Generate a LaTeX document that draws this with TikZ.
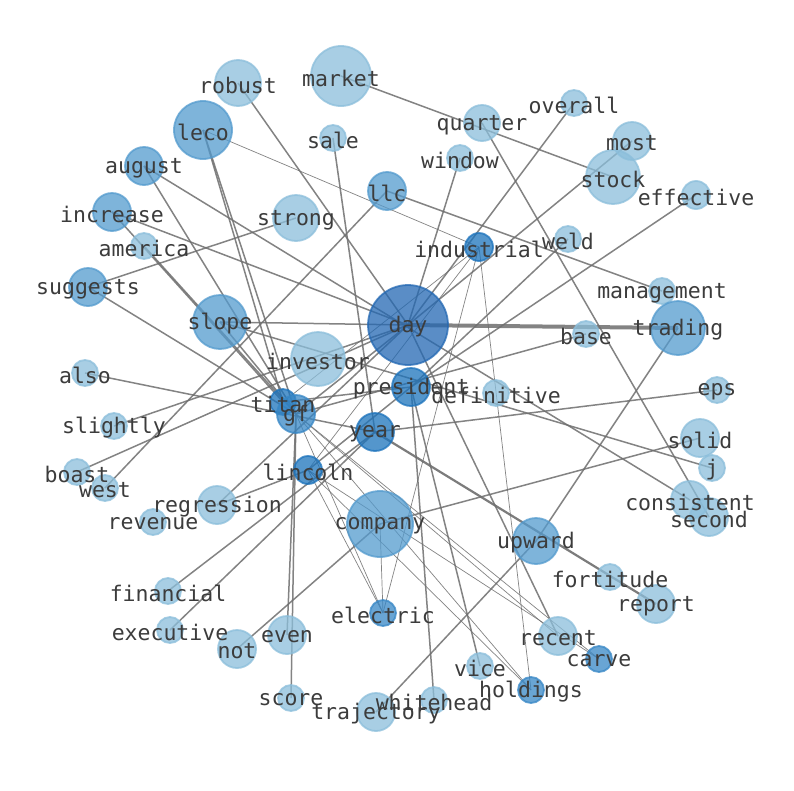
\documentclass[tikz,border=0pt]{standalone}
\usepackage{fontspec}
\newfontfamily\lblfont{DejaVu Sans Mono}
\pgfdeclarelayer{bg}\pgfdeclarelayer{fg}
\pgfsetlayers{bg,main,fg}
\definecolor{cL}{RGB}{139,190,219}
\definecolor{cM}{RGB}{84,155,206}
\definecolor{cG}{RGB}{55,135,198}
\definecolor{cD}{RGB}{28,115,188}
\definecolor{cX}{RGB}{35,104,179}
\definecolor{edgec}{RGB}{110,110,110}
\definecolor{txtc}{RGB}{60,60,60}
\tikzset{
  vtx/.style={circle, fill=#1, draw=#1, line width=1.8pt, fill opacity=0.75, draw opacity=0.75, inner sep=0pt},
  lbl/.style={text=txtc, font=\lblfont\fontsize{21.5}{24}\selectfont, inner sep=0pt, anchor=center},
  ed/.style={draw=edgec, line width=1.5pt, draw opacity=0.85},
  thined/.style={draw=edgec, line width=0.7pt, draw opacity=0.85},
}
\newcommand\nd[5]{\node[vtx=#4, minimum size=#5pt] (#1) at (#2,#3) {};
  \begin{pgfonlayer}{fg}\node[lbl] (#1-t) at (#2,#3+2) {#1};\end{pgfonlayer}}
\newcommand\E[2]{\draw[ed] (#1.center) -- (#2.center);}
\newcommand\T[2]{\draw[thined] (#1.center) -- (#2.center);}
\begin{document}
\begin{tikzpicture}[x=1pt,y=-1pt]
\useasboundingbox (0,0) rectangle (794,790);
\begin{pgfonlayer}{bg}\fill[white] (0,0) rectangle (794,790);\end{pgfonlayer}
\nd{market}{341}{76}{cL}{60}
\nd{robust}{238}{83}{cL}{46}
\nd{leco}{203}{130}{cM}{58}
\nd{sale}{333}{138}{cL}{26}
\nd{overall}{574}{103}{cL}{26}
\nd{quarter}{482}{123}{cL}{36}
\nd{most}{632}{141}{cL}{38}
\nd{window}{460}{158}{cL}{26}
\nd{stock}{613}{177}{cL}{54}
\nd{effective}{696}{195}{cL}{28}
\nd{august}{144}{166}{cM}{38}
\nd{increase}{112}{212}{cM}{38}
\nd{llc}{387}{191}{cM}{38}
\nd{strong}{296}{218}{cL}{46}
\nd{america}{144}{246}{cL}{26}
\nd{industrial}{479}{247}{cD}{28}
\nd{weld}{568}{239}{cL}{26}
\nd{suggests}{88}{287}{cM}{38}
\nd{management}{662}{291}{cL}{26}
\nd{day}{408}{325}{cX}{80}
\nd{slope}{220}{322}{cM}{54}
\nd{trading}{678}{328}{cM}{54}
\nd{base}{586}{334}{cL}{26}
\nd{investor}{318}{359}{cL}{54}
\nd{also}{85}{373}{cL}{26}
\nd{president}{411}{387}{cD}{38}
\nd{definitive}{496}{393}{cL}{26}
\nd{eps}{717}{390}{cL}{26}
\nd{titan}{283}{402}{cD}{26}
\nd{gf}{296}{414}{cG}{38}
\nd{slightly}{114}{426}{cL}{26}
\nd{year}{375}{432}{cD}{38}
\nd{solid}{700}{438}{cL}{38}
\nd{j}{712}{468}{cL}{26}
\nd{boast}{77}{472}{cL}{26}
\nd{lincoln}{308}{470}{cD}{28}
\nd{west}{105}{488}{cL}{26}
\nd{regression}{217}{505}{cL}{38}
\nd{consistent}{690}{500}{cL}{38}
\nd{company}{380}{524}{cM}{66}
\nd{revenue}{153}{522}{cL}{26}
\nd{second}{709}{517}{cL}{38}
\nd{upward}{536}{541}{cM}{46}
\nd{fortitude}{610}{577}{cL}{26}
\nd{financial}{168}{591}{cL}{26}
\nd{report}{656}{604}{cL}{38}
\nd{electric}{383}{613}{cG}{26}
\nd{executive}{170}{630}{cL}{26}
\nd{even}{287}{635}{cL}{38}
\nd{not}{237}{649}{cL}{38}
\nd{recent}{558}{636}{cL}{38}
\nd{carve}{599}{659}{cG}{26}
\nd{vice}{480}{666}{cL}{26}
\nd{holdings}{531}{690}{cG}{26}
\nd{score}{291}{698}{cL}{26}
\nd{whitehead}{434}{700}{cL}{26}
\nd{trajectory}{376}{712}{cL}{38}
\begin{pgfonlayer}{bg}
\E{market}{stock}
\E{quarter}{second}
\E{overall}{day}
\E{most}{day}
\E{window}{day}
\E{effective}{president}
\E{weld}{president}
\E{llc}{management}
\T{leco}{industrial}
\T{industrial}{holdings}
\T{industrial}{electric}
\T{industrial}{titan}
\T{industrial}{lincoln}
\E{robust}{day}
\E{leco}{titan}
\E{leco}{gf}
\E{august}{consistent}
\E{august}{gf}
\E{slope}{j}
\E{slope}{day}
\E{company}{solid}
\E{year}{eps}
\draw[draw=edgec, line width=4pt, draw opacity=0.85] (day.center) -- (trading.center);
\E{increase}{day}
\E{suggests}{strong}
\E{sale}{year}
\E{llc}{west}
\E{suggests}{gf}
\E{also}{year}
\E{slightly}{day}
\E{boast}{day}
\E{financial}{year}
\E{executive}{year}
\E{not}{company}
\E{even}{gf}
\E{score}{gf}
\T{lincoln}{holdings}
\T{gf}{holdings}
\E{day}{recent}
\E{president}{vice}
\E{president}{whitehead}
\E{trajectory}{upward}
\E{upward}{trading}
\draw[draw=edgec, line width=2.2pt, draw opacity=0.9] (year.center) -- (report.center);
\E{regression}{day}
\E{regression}{lincoln}
\E{gf}{base}
\T{lincoln}{electric}
\T{gf}{electric}
\T{lincoln}{carve}
\T{gf}{carve}
\T{gf}{recent}
\T{company}{electric}
\E{slope}{gf}
\E{increase}{titan}
\E{america}{gf}
\E{gf}{day}
\E{titan}{president}
\E{lincoln}{president}
\end{pgfonlayer}
\end{tikzpicture}
\end{document}
